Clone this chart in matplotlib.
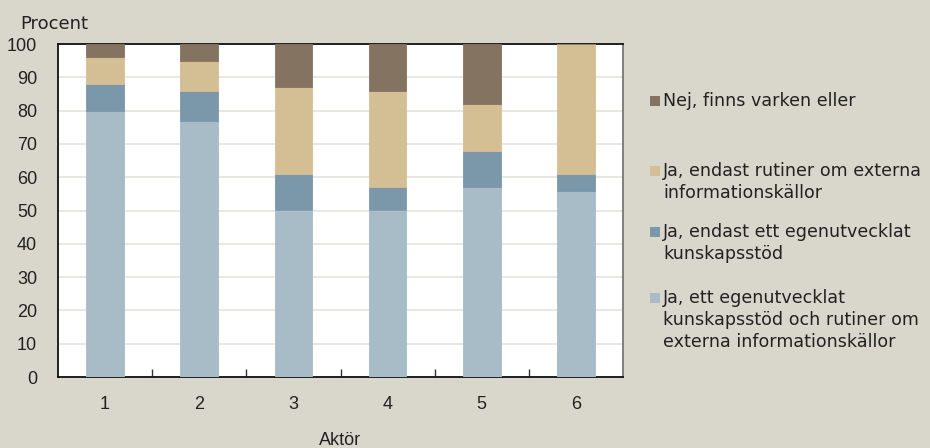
import matplotlib
matplotlib.use("Agg")
import matplotlib.pyplot as plt
from matplotlib.patches import Rectangle
import numpy as np

# Data: share of respondents per actor (percent)
aktorer = ["1", "2", "3", "4", "5", "6"]
ja_bada = [80, 77, 50, 50, 57, 56]
ja_kunskapsstod = [8, 9, 11, 7, 11, 5]
ja_rutiner = [8, 9, 26, 29, 14, 39]
nej = [4, 5, 13, 14, 18, 0]

series = [
    (ja_bada, "#A7BCC7", "Ja, ett egenutvecklat\nkunskapsstöd och rutiner om\nexterna informationskällor"),
    (ja_kunskapsstod, "#7B98AA", "Ja, endast ett egenutvecklat\nkunskapsstöd"),
    (ja_rutiner, "#D4BE94", "Ja, endast rutiner om externa\ninformationskällor"),
    (nej, "#857362", "Nej, finns varken eller"),
]

bg = "#D9D7CB"
geo_font = ["DejaVu Sans"]
narrow_font = ["Liberation Sans Narrow", "Liberation Sans", "DejaVu Sans"]

fig = plt.figure(figsize=(9.3, 4.48), dpi=100, facecolor=bg)
ax = fig.add_axes([58 / 930, 1 - 377 / 448, (623 - 58) / 930, (377 - 44) / 448])
ax.set_facecolor("white")

x = np.arange(len(aktorer))
bottom = np.zeros(len(aktorer))
for vals, color, label in series:
    ax.bar(x, vals, width=0.4, bottom=bottom, color=color, edgecolor=color,
           linewidth=0.6, zorder=3)
    bottom += np.array(vals)

ax.set_xlim(-0.5, len(aktorer) - 0.5)
ax.set_ylim(0, 100)
ax.set_yticks(np.arange(0, 101, 10))
ax.yaxis.grid(True, color="#E5E3DC", linewidth=1.2, zorder=0)
ax.tick_params(axis="y", length=0, pad=15, labelsize=13, labelcolor="#222222")
for t in ax.get_yticklabels():
    t.set_fontfamily(narrow_font)

# category labels centred, tick marks at category boundaries
ax.set_xticks(x)
ax.set_xticklabels(aktorer, fontfamily=narrow_font, fontsize=13, color="#222222")
ax.tick_params(axis="x", length=0, pad=14)
ax.set_xticks(np.arange(0.5, len(aktorer) - 0.5, 1), minor=True)
ax.tick_params(axis="x", which="minor", direction="in", length=6, width=1, color="#333333")

for side in ["left", "bottom", "top"]:
    ax.spines[side].set_color("#111111")
    ax.spines[side].set_linewidth(1.3)
ax.spines["right"].set_color("#777777")
ax.spines["right"].set_linewidth(1.3)

fig.text(20 / 930, 1 - 24 / 448, "Procent", fontfamily=geo_font, fontsize=13,
         color="#222222", va="center", ha="left")
fig.text(340 / 930, 1 - 440 / 448, "Aktör", fontfamily=narrow_font, fontsize=13,
         color="#222222", va="center", ha="center")

# Legend drawn top to bottom in reverse stacking order
legend_y = [101, 182, 243, 320]
for (vals, color, label), yc in zip(reversed(series), legend_y):
    nlines = label.count("\n") + 1
    first_line_y = yc - (nlines - 1) * 22.5 / 2
    fig.patches.append(Rectangle((650 / 930, 1 - (first_line_y + 5) / 448), 10 / 930, 10 / 448,
                                 transform=fig.transFigure, facecolor=color, edgecolor="none"))
    fig.text(663 / 930, 1 - yc / 448, label, fontfamily=geo_font, fontsize=12.6,
             color="#222222", va="center", ha="left", linespacing=1.3)

fig.savefig("out.png", dpi=100, facecolor=bg)
